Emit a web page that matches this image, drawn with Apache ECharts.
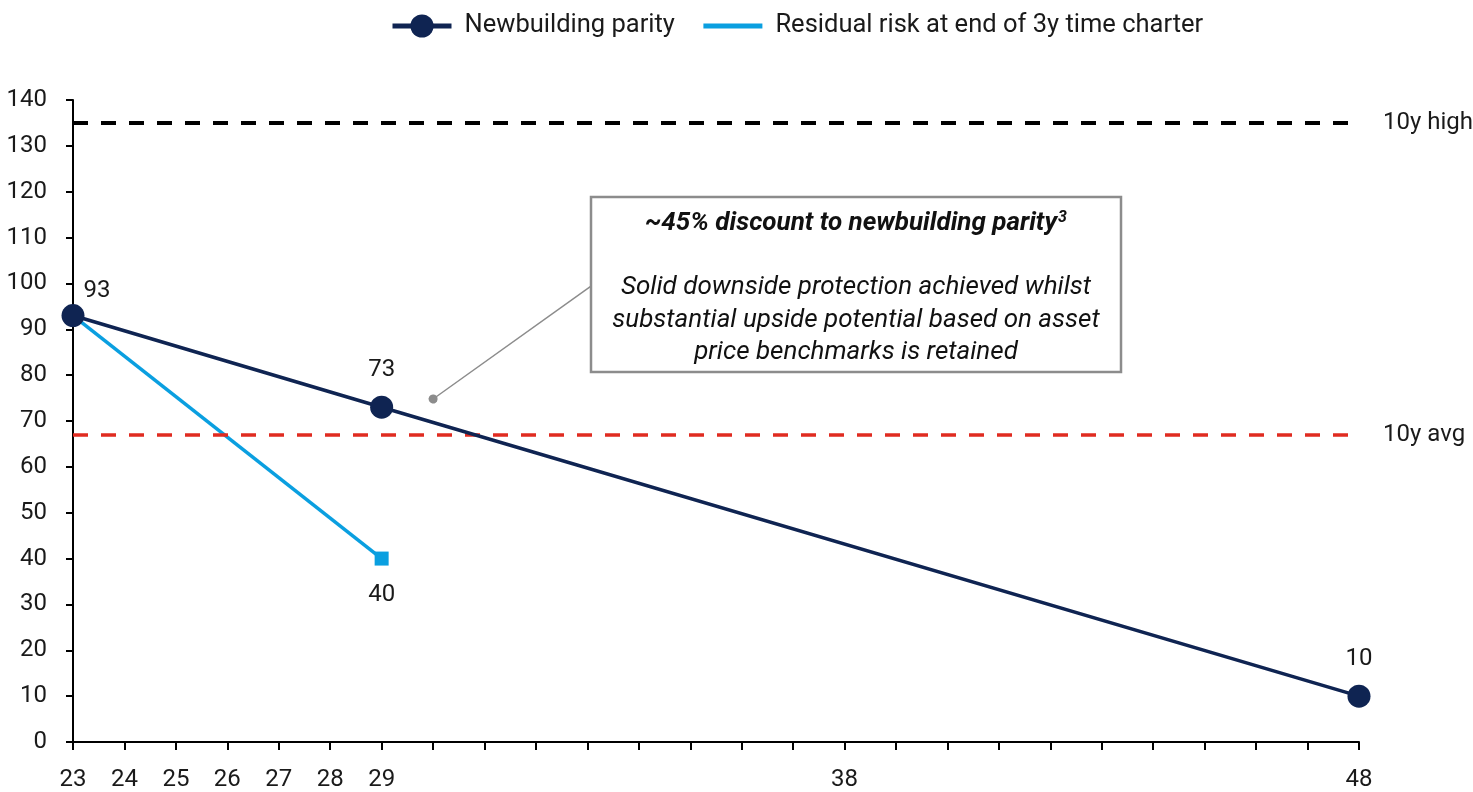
<!DOCTYPE html>
<html>
<head>
<meta charset="utf-8">
<script src="https://cdn.jsdelivr.net/npm/echarts@6/dist/echarts.min.js"></script>
<style>
  html, body { margin: 0; padding: 0; background: #fff; }
  #chart { width: 1473px; height: 792px; }
</style>
</head>
<body>
<div id="chart"></div>
<script>
// Vessel age (years) and value points
const ageTicks = [23, 24, 25, 26, 27, 28, 29, 38, 48];
const parityAges = [23, 29, 48];
const parityValues = [93, 73, 10];
const residualAges = [23, 29];
const residualValues = [93, 40];
const tenYearHigh = 135;
const tenYearAvg = 67;
const calloutAnchor = [30, 74.8];
const calloutEnd = [33.07, 99.4];

const FONT = 'Roboto';
const FS = 24;
const FS_BIG = 26;
const TEXT = '#1a1a1a';
const NAVY = '#0f2452';
const BLUE = '#0a9fe0';

const parityData = parityAges.map((a, i) => {
  const item = { value: [a, parityValues[i]], label: { offset: [0, -9] } };
  if (i === 0) item.label = { offset: [24, 4] };
  return item;
});
const residualData = residualAges.map((a, i) => {
  if (i === residualAges.length - 1) {
    return { value: [a, residualValues[i]], symbol: 'rect', symbolSize: 14,
             label: { show: true, position: 'bottom', offset: [0, 12] } };
  }
  return { value: [a, residualValues[i]], symbol: 'none' };
});

const chart = echarts.init(document.getElementById('chart'), null, { renderer: 'canvas' });
chart.setOption({
  animation: false,
  textStyle: { fontFamily: FONT },
  legend: {
    top: 8,
    left: 385,
    itemWidth: 59,
    itemHeight: 29,
    itemGap: 26,
    textStyle: { fontFamily: FONT, fontSize: 25.5, color: TEXT, padding: [0, 0, 0, 8] },
    data: [
      { name: 'Newbuilding parity', lineStyle: { width: 5 } },
      { name: 'Residual risk at end of 3y time charter', itemStyle: { opacity: 0 }, lineStyle: { width: 5 } }
    ]
  },
  grid: { left: 73, right: 114, top: 100, bottom: 50, containLabel: false },
  xAxis: {
    type: 'value',
    min: 23, max: 48, interval: 1,
    axisLine: { show: true, lineStyle: { color: '#000', width: 2 } },
    axisTick: { show: true, length: 8, lineStyle: { color: '#000', width: 2 } },
    splitLine: { show: false },
    axisLabel: {
      fontFamily: FONT, fontSize: FS, color: TEXT, margin: 26,
      formatter: v => ageTicks.includes(v) ? String(v) : ''
    }
  },
  yAxis: {
    type: 'value',
    min: 0, max: 140, interval: 10,
    axisLine: { show: true, lineStyle: { color: '#000', width: 2 } },
    axisTick: { show: true, length: 7, lineStyle: { color: '#000', width: 2 } },
    splitLine: { show: false },
    axisLabel: { fontFamily: FONT, fontSize: FS, color: TEXT, margin: 26 }
  },
  series: [
    {
      name: 'Newbuilding parity',
      type: 'line',
      data: parityData,
      symbol: 'circle',
      symbolSize: 23,
      z: 5,
      lineStyle: { color: NAVY, width: 3.5 },
      itemStyle: { color: NAVY },
      emphasis: { disabled: true },
      label: { show: true, position: 'top', fontFamily: FONT, fontSize: FS, color: TEXT },
      markLine: {
        silent: true,
        symbol: ['circle', 'none'],
        symbolSize: 9,
        lineStyle: { color: '#8c8c8c', width: 1.5, type: 'solid' },
        itemStyle: { color: '#8c8c8c' },
        label: { show: false },
        data: [[{ coord: calloutAnchor }, { coord: calloutEnd }]]
      }
    },
    {
      name: 'Residual risk at end of 3y time charter',
      type: 'line',
      data: residualData,
      symbol: 'none',
      z: 4,
      lineStyle: { color: BLUE, width: 3.5 },
      itemStyle: { color: BLUE },
      emphasis: { disabled: true },
      label: { show: false, fontFamily: FONT, fontSize: FS, color: TEXT }
    },
    {
      name: 'benchmarks',
      type: 'line',
      data: [],
      z: 2,
      markLine: {
        silent: true,
        symbol: ['none', 'none'],
        label: { show: true, position: 'end', distance: 24, fontFamily: FONT, fontSize: FS, color: TEXT },
        data: [
          { yAxis: tenYearHigh, name: '10y high', label: { formatter: '10y high' },
            lineStyle: { color: '#000', width: 4, type: [15, 13] } },
          { yAxis: tenYearAvg, name: '10y avg', label: { formatter: '10y avg' },
            lineStyle: { color: '#e02b20', width: 3.5, type: [15, 13] } }
        ]
      }
    }
  ],
  graphic: [
    {
      type: 'rect',
      shape: { x: 591, y: 197, width: 530, height: 175 },
      style: { fill: '#fff', stroke: '#8c8c8c', lineWidth: 2.5 },
      z: 10
    },
    {
      type: 'text',
      x: 856, y: 223,
      z: 11,
      style: {
        text: '~45% discount to newbuilding parity{sup|3}',
        align: 'center', verticalAlign: 'middle',
        fontFamily: FONT, fontSize: FS_BIG, fontWeight: 'bold', fontStyle: 'italic', fill: '#111',
        rich: { sup: { fontFamily: FONT, fontSize: 16, fontWeight: 'bold', fontStyle: 'italic', verticalAlign: 'top', padding: [0, 0, 10, 1] } }
      }
    },
    {
      type: 'text',
      x: 856, y: 320,
      z: 11,
      style: {
        text: 'Solid downside protection achieved whilst\nsubstantial upside potential based on asset\nprice benchmarks is retained',
        align: 'center', verticalAlign: 'middle',
        fontFamily: FONT, fontSize: FS_BIG, fontStyle: 'italic', lineHeight: 32.5, fill: '#111'
      }
    }
  ]
});
</script>
</body>
</html>
